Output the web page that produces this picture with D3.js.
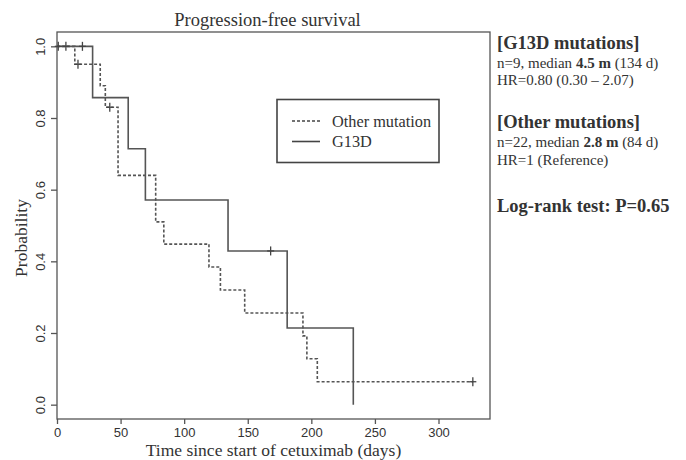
<!DOCTYPE html>
<html>
<head>
<meta charset="utf-8">
<script src="https://cdn.jsdelivr.net/npm/d3@7"></script>
<style>
  body { margin: 0; background: #fff; }
  svg { display: block; }
  .serif { font-family: "Liberation Serif", "Times New Roman", serif; fill: #333; }
  .axis text { font-family: "Liberation Sans", Arial, sans-serif; font-size: 13px; fill: #333; }
  .axis path, .axis line { stroke: #555; stroke-width: 1.3; }
</style>
</head>
<body>
<svg id="chart"></svg>
<script>
// Kaplan-Meier steps (day, survival probability)
const otherDays = [0, 14, 34, 38, 48, 77.6, 84, 119.5, 128.5, 147.6, 193.4, 196.5, 204.7, 327];
const otherSurv = [1, 0.95, 0.89, 0.83, 0.64, 0.51, 0.448, 0.384, 0.32, 0.256, 0.192, 0.128, 0.064, 0.064];
const g13dDays = [0, 28, 56, 69.5, 134.5, 181, 233];
const g13dSurv = [1, 0.857, 0.714, 0.571, 0.429, 0.214, 0];

// censored observations (+ marks)
const otherCensorDays = [1, 7, 16.5, 41.5, 327];
const otherCensorSurv = [1, 1, 0.95, 0.83, 0.064];
const g13dCensorDays = [20, 168];
const g13dCensorSurv = [1, 0.429];

const xTicks = [0, 50, 100, 150, 200, 250, 300];
const yTicks = [0, 0.2, 0.4, 0.6, 0.8, 1.0];

const legendLabels = ["Other mutation", "G13D"];

const width = 686, height = 460;
const plot = {left: 57, top: 32, right: 490, bottom: 419};

const svg = d3.select('#chart')
  .attr('width', width)
  .attr('height', height);

const x = d3.scaleLinear()
  .domain([0, 340.5])
  .range([plot.left, plot.right]);

const y = d3.scaleLinear()
  .domain([-0.04, 1.04])
  .range([plot.bottom, plot.top]);

// frame
svg.append('rect')
  .attr('x', plot.left).attr('y', plot.top)
  .attr('width', plot.right - plot.left)
  .attr('height', plot.bottom - plot.top)
  .attr('fill', 'none')
  .attr('stroke', '#555')
  .attr('stroke-width', 1.3);

// axes
const xAxis = d3.axisBottom(x).tickValues(xTicks).tickSize(5).tickPadding(4);
svg.append('g')
  .attr('class', 'axis')
  .attr('transform', `translate(0,${plot.bottom})`)
  .call(xAxis)
  .call(g => g.select('.domain').remove());

const yAxis = d3.axisLeft(y).tickValues(yTicks).tickSize(6).tickFormat(d3.format('.1f'));
svg.append('g')
  .attr('class', 'axis')
  .attr('transform', `translate(${plot.left},0)`)
  .call(yAxis)
  .call(g => g.select('.domain').remove())
  .selectAll('text')
  .attr('x', 0).attr('y', 0).attr('dy', 0)
  .attr('text-anchor', 'middle')
  .attr('dominant-baseline', 'middle')
  .attr('transform', 'translate(-15,0) rotate(-90)');

// titles
svg.append('text')
  .attr('class', 'serif')
  .attr('x', (plot.left + plot.right) / 2 - 6)
  .attr('y', 26)
  .attr('text-anchor', 'middle')
  .style('font-size', '18.5px')
  .text('Progression-free survival');

svg.append('text')
  .attr('class', 'serif')
  .attr('x', (plot.left + plot.right) / 2)
  .attr('y', 456)
  .attr('text-anchor', 'middle')
  .style('font-size', '17.5px')
  .text('Time since start of cetuximab (days)');

svg.append('text')
  .attr('class', 'serif')
  .attr('transform', 'translate(27,238) rotate(-90)')
  .attr('text-anchor', 'middle')
  .style('font-size', '17.5px')
  .text('Probability');

// curves
const line = d3.line()
  .x(d => x(d[0]))
  .y(d => y(d[1]))
  .curve(d3.curveStepAfter);

const otherPts = d3.zip(otherDays, otherSurv);
const g13dPts = d3.zip(g13dDays, g13dSurv);

svg.append('path')
  .datum(otherPts)
  .attr('d', line)
  .attr('fill', 'none')
  .attr('stroke', '#555')
  .attr('stroke-width', 1.6)
  .attr('stroke-dasharray', '3,2');

svg.append('path')
  .datum(g13dPts)
  .attr('d', line)
  .attr('fill', 'none')
  .attr('stroke', '#555')
  .attr('stroke-width', 1.6);

// censor marks
const censors = d3.zip(otherCensorDays, otherCensorSurv).concat(d3.zip(g13dCensorDays, g13dCensorSurv));
const marks = svg.append('g').attr('stroke', '#444').attr('stroke-width', 1.3);
censors.forEach(d => {
  marks.append('line')
    .attr('x1', x(d[0])).attr('x2', x(d[0]))
    .attr('y1', y(d[1]) - 4.5).attr('y2', y(d[1]) + 4.5);
  marks.append('line')
    .attr('x1', x(d[0]) - 3.5).attr('x2', x(d[0]) + 3.5)
    .attr('y1', y(d[1])).attr('y2', y(d[1]));
});

// legend
const lg = svg.append('g');
lg.append('rect')
  .attr('x', 277).attr('y', 99.5)
  .attr('width', 162).attr('height', 63)
  .attr('fill', '#fff')
  .attr('stroke', '#444')
  .attr('stroke-width', 1.6);
legendLabels.forEach((lab, i) => {
  const ly = 121 + i * 20.5;
  lg.append('line')
    .attr('x1', 292).attr('x2', 320)
    .attr('y1', ly).attr('y2', ly)
    .attr('stroke', '#444')
    .attr('stroke-width', 1.6)
    .attr('stroke-dasharray', i === 0 ? '3,2' : null);
  lg.append('text')
    .attr('class', 'serif')
    .attr('x', 332)
    .attr('y', ly + 5.5)
    .style('font-size', '16.3px')
    .text(lab);
});

// side annotation
const notes = svg.append('g').attr('class', 'serif');
function note(yy, size, parts) {
  const t = notes.append('text').attr('x', 497).attr('y', yy).style('font-size', size + 'px');
  parts.forEach(p => {
    t.append('tspan')
      .style('font-weight', p[1] ? 'bold' : 'normal')
      .text(p[0]);
  });
}
note(49, 18.5, [['[G13D mutations]', true]]);
note(68, 15, [['n=9, median ', false], ['4.5 m', true], [' (134 d)', false]]);
note(85, 15, [['HR=0.80 (0.30 \u2013 2.07)', false]]);
note(128, 18.5, [['[Other mutations]', true]]);
note(147, 15, [['n=22, median ', false], ['2.8 m', true], [' (84 d)', false]]);
note(165, 15, [['HR=1 (Reference)', false]]);
note(212, 18.5, [['Log-rank test: P=0.65', true]]);
</script>
</body>
</html>
